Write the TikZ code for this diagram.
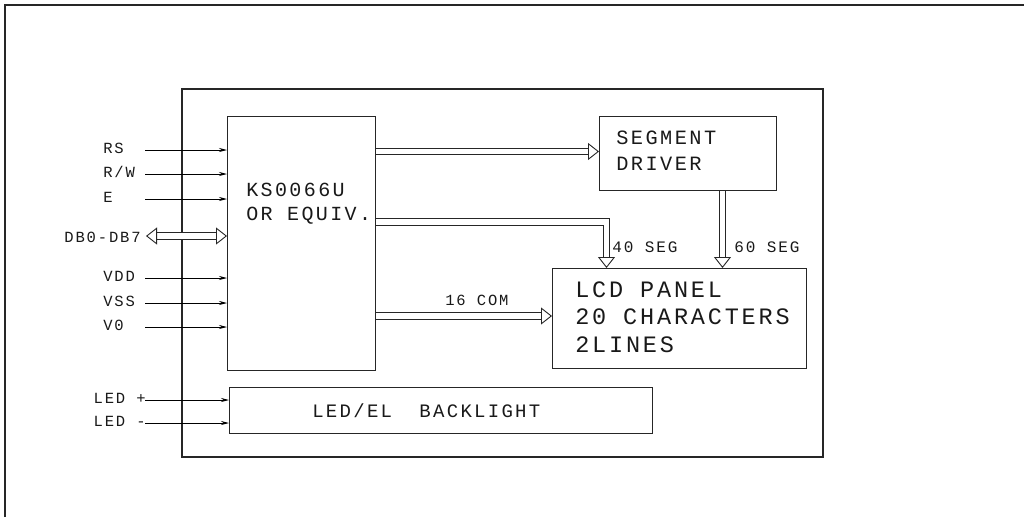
\documentclass[tikz,border=0pt]{standalone}
\usepackage{fontspec}
\newfontfamily\cadfont[LetterSpace=12]{Liberation Mono}
\usetikzlibrary{arrows.meta,positioning,calc}
\tikzset{
  blk/.style={draw=black!85,line width=1.1pt,inner sep=0pt},
  sig/.style={line width=0.8pt,-{Stealth[length=8pt,width=4pt]}},
  bus/.style={draw=black!85,line width=0.9pt,double=white,double distance=5.5pt,
    -{Triangle[open,length=11pt,width=17pt,line width=0.9pt,fill=white]}},
  cad/.style 2 args={font=\cadfont\fontsize{#1}{#2}\selectfont,inner sep=0pt,text=black!90}
}
\begin{document}
\begin{tikzpicture}[x=1pt,y=-1pt,semithick]
\useasboundingbox (0,0) rectangle (1024,517);
\draw[line width=2pt,black!85] (5,517) -- (5,5) -- (1024,5);
\draw[blk] (182,89) rectangle (823,457);

% blocks
\node[blk,anchor=north west,minimum width=148pt,minimum height=254pt] (ks) at (227,116) {};
\node[blk,anchor=north west,minimum width=177pt,minimum height=74pt] (seg) at (599,116) {};
\node[blk,anchor=north west,minimum width=254pt,minimum height=100pt] (lcd) at (552,268) {};
\node[blk,anchor=north west,minimum width=423pt,minimum height=46pt] (led) at (229,387) {};

\node[cad={20}{24},anchor=north west,align=left] (kst) at (246,183) {KS0066U\\OR EQUIV.};
\node[cad={20.3}{26},anchor=north west,align=left] (segt) at (616,131) {SEGMENT\\DRIVER};
\node[cad={23.5}{27.5},anchor=north west,align=left] (lcdt) at (575,281) {LCD PANEL\\20 CHARACTERS\\2LINES};
\node[cad={19}{22},anchor=base west] (ledt) at (312,417) {LED/EL\ \ BACKLIGHT};

% control and supply inputs
\foreach \nm/\yy/\txt in {rs/150/RS,rw/174/{R/W},en/199/E,vdd/278/VDD,vss/303/VSS,vo/327/V0}{
  \node[cad={15.5}{18},anchor=base west] (\nm) at (103,\yy+3.5) {\txt};
  \coordinate (\nm0) at (145,\yy);
  \draw[sig] (\nm0) -- (\nm0 -| ks.west);
}
\node[cad={15.5}{18},anchor=base east] (db) at (141,242) {DB0-DB7};
\coordinate (db0) at (146,236);
\draw[bus,{Triangle[open,length=11pt,width=17pt,line width=0.9pt,fill=white]}-{Triangle[open,length=11pt,width=17pt,line width=0.9pt,fill=white]}]
  (db0) -- (db0 -| ks.west);

\node[cad={15.5}{18},anchor=base east] (ledp) at (146,403.5) {LED +};
\node[cad={15.5}{18},anchor=base east] (ledm) at (146,426.5) {LED -};
\coordinate (ledp0) at (145,400);
\coordinate (ledm0) at (145,423);
\draw[sig] (ledp0) -- (ledp0 -| led.west);
\draw[sig] (ledm0) -- (ledm0 -| led.west);

% internal buses
\draw[bus] (ks.east |- 0,151.5) -- (seg.west |- 0,151.5);
\draw[bus] (ks.east |- 0,222) -| (lcd.north -| 606.5,0);
\draw[bus] (seg.south -| 722.5,0) -- (lcd.north -| 722.5,0);
\draw[bus] (ks.east |- 0,316) -- (lcd.west |- 0,316);
\node[cad={16}{18},anchor=base west] (s40) at (612,252) {40 SEG};
\node[cad={16}{18},anchor=base west] (s60) at (734,252) {60 SEG};
\node[cad={15.5}{18},anchor=base west] (c16) at (445,305) {16 COM};
\end{tikzpicture}
\end{document}
